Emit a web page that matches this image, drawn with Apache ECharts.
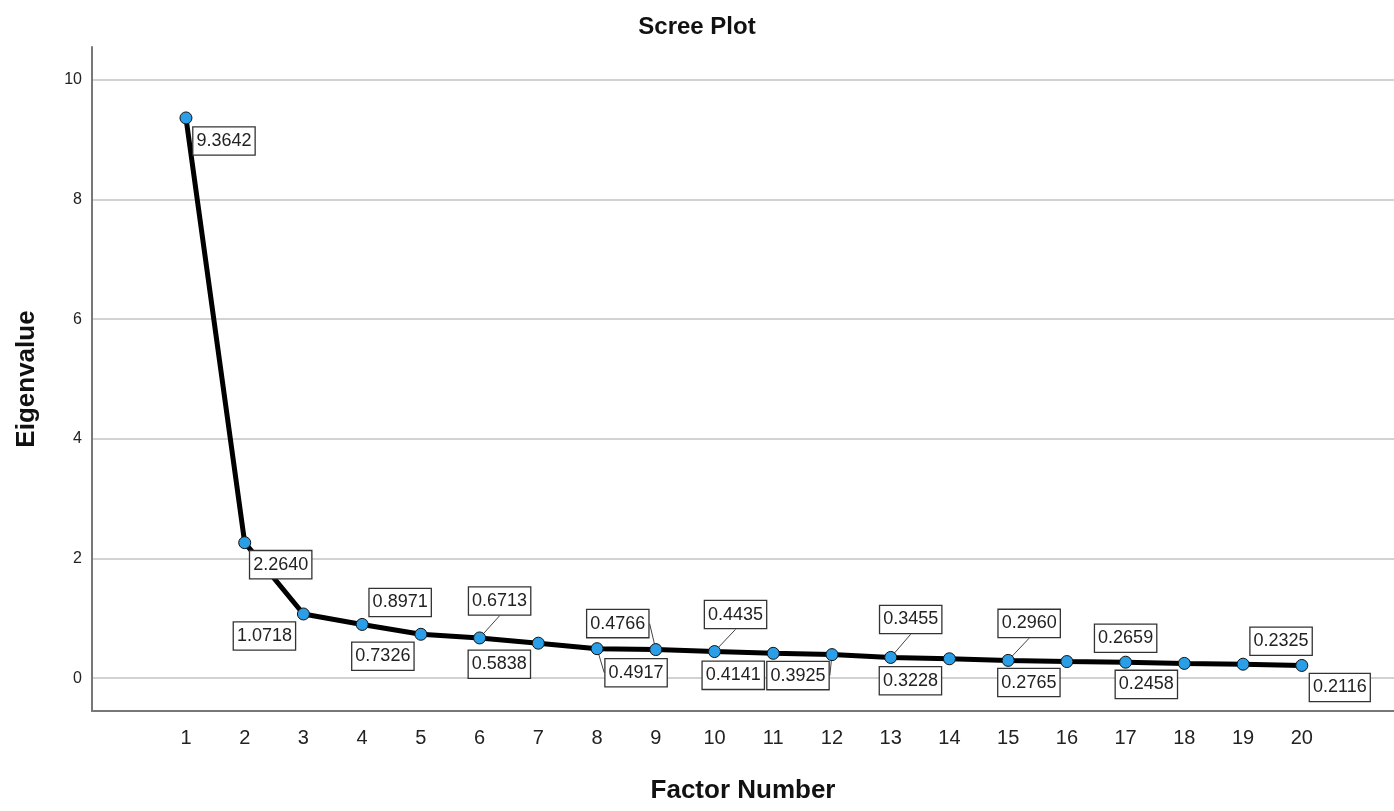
<!DOCTYPE html>
<html>
<head>
<meta charset="utf-8">
<script src="https://cdn.jsdelivr.net/npm/echarts@6/dist/echarts.min.js"></script>
<style>
html,body{margin:0;padding:0;background:#fff;}
#c{width:1394px;height:811px;}
</style>
</head>
<body>
<div id="c"></div>
<script>
const factors = [1,2,3,4,5,6,7,8,9,10,11,12,13,14,15,16,17,18,19,20];
const eigenvalues = [9.3642,2.2640,1.0718,0.8971,0.7326,0.6713,0.5838,0.4917,0.4766,0.4435,0.4141,0.3925,0.3455,0.3228,0.2960,0.2765,0.2659,0.2458,0.2325,0.2116];
const yTicks = [0,2,4,6,8,10];
const xTicks = factors;

// label placement (box centre offset from the point) and leader-line flags
const labelOffsets = [[38,23],[36,22],[-39,22],[38,-22],[-38,22],[20,-37],[-39,21],[39,24],[-38,-26],[21,-37],[-40,22],[-34,21],[20,-38],[-39,22],[21,-37],[-38,21],[0,-24],[-38,21],[38,-23],[38,22]];
const leaders = [false,false,false,false,false,true,false,true,true,true,false,true,true,false,true,false,false,false,false,false];

const FONT = '"Liberation Sans", Arial, sans-serif';
const chart = echarts.init(document.getElementById('c'));

const data = factors.map((f,i) => ({
  value: [f, eigenvalues[i]],
  labelLine: { show: leaders[i], lineStyle: { color: '#444', width: 1 } }
}));

chart.setOption({
  animation: false,
  backgroundColor: '#fff',
  title: {
    text: 'Scree Plot', left: 'center', top: 10,
    textStyle: { fontFamily: FONT, fontSize: 24, fontWeight: 'bold', color: '#111' }
  },
  grid: { left: 92, right: 0, top: 47, bottom: 100, containLabel: false, outerBoundsMode: 'none' },
  xAxis: {
    type: 'value', min: -0.6, max: 21.57,
    name: 'Factor Number', nameLocation: 'middle', nameGap: 67,
    nameTextStyle: { fontFamily: FONT, fontSize: 26, fontWeight: 'bold', color: '#111' },
    axisLine: { show: true, onZero: false, lineStyle: { color: '#777', width: 2 } },
    axisTick: { show: false, customValues: xTicks },
    splitLine: { show: false },
    axisLabel: { customValues: xTicks, margin: 17, fontFamily: FONT, fontSize: 20, color: '#222' }
  },
  yAxis: {
    type: 'value', min: -0.55, max: 10.55,
    name: 'Eigenvalue', nameLocation: 'middle', nameGap: 52,
    nameTextStyle: { fontFamily: FONT, fontSize: 26, fontWeight: 'bold', color: '#111' },
    axisLine: { show: true, onZero: false, lineStyle: { color: '#777', width: 2 } },
    axisTick: { show: false, customValues: yTicks },
    splitLine: { show: true, lineStyle: { color: '#d2d2d2', width: 2 } },
    axisLabel: { customValues: yTicks, margin: 10, fontFamily: FONT, fontSize: 16, color: '#222' }
  },
  series: [{
    type: 'line',
    data: data,
    lineStyle: { color: '#000', width: 5 },
    symbol: 'circle', symbolSize: 12,
    itemStyle: { color: '#2a9fe8', borderColor: '#111', borderWidth: 1 },
    label: {
      show: true, position: 'inside',
      formatter: p => p.value[1].toFixed(4),
      fontFamily: FONT, fontSize: 18, color: '#222',
      backgroundColor: '#fff', borderColor: '#333', borderWidth: 1.3,
      padding: [5, 3, 4, 3]
    },
    labelLine: { show: false, lineStyle: { color: '#444', width: 1 } },
    labelLayout: p => ({ dx: labelOffsets[p.dataIndex][0], dy: labelOffsets[p.dataIndex][1], hideOverlap: false }),
    z: 3
  }]
});
</script>
</body>
</html>
